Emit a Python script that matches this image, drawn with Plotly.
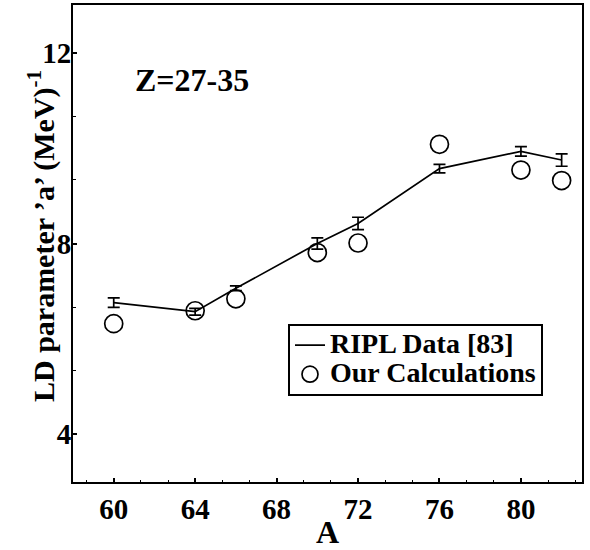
import plotly.graph_objects as go

# Data
mass_number = [60, 64, 66, 70, 72, 76, 80, 82]
ripl_a = [6.76, 6.57, 7.06, 8.00, 8.42, 9.57, 9.93, 9.75]
ripl_err = [0.10, 0.07, 0.05, 0.12, 0.13, 0.09, 0.10, 0.13]
calc_a = [6.32, 6.59, 6.84, 7.81, 8.01, 10.08, 9.54, 9.32]

x_ticks = [60, 64, 68, 72, 76, 80]
y_ticks = [4, 8, 12]

FONT = "Liberation Serif"


def big(txt, size=28):
    return f'<span style="font-size:{size}px"><b>{txt}</b></span>'


fig = go.Figure()
fig.add_trace(go.Scatter(
    x=mass_number, y=ripl_a, mode="lines", name=big("RIPL Data [83]"),
    line=dict(color="black", width=1.7),
    error_y=dict(type="data", array=ripl_err, visible=True, color="black",
                 thickness=1.7, width=6),
))
fig.add_trace(go.Scatter(
    x=mass_number, y=calc_a, mode="markers", name=big("Our Calculations"),
    marker=dict(symbol="circle-open", size=18, color="black",
                line=dict(width=1.7, color="black")),
))

fig.add_annotation(
    x=0.118, y=0.843, xref="paper", yref="paper", xanchor="left", yanchor="middle",
    text="<b>Z=27-35</b>", showarrow=False,
    font=dict(family=FONT, size=32, color="black"),
)

# y-axis title placed close to the axis (overlapping the tick-label column as in the original)
fig.add_annotation(
    x=-0.0615, y=0.515, xref="paper", yref="paper", xanchor="center", yanchor="middle",
    text="<b>LD parameter ’a’ (MeV)<sup>-1</sup></b>", showarrow=False, textangle=-90,
    font=dict(family=FONT, size=30, color="black"),
)

fig.update_layout(
    width=590, height=550,
    margin=dict(l=73, r=8, t=3, b=56),
    paper_bgcolor="white", plot_bgcolor="white",
    font=dict(family=FONT, size=28, color="black"),
    showlegend=True,
    legend=dict(
        x=0.4224, y=0.332, xanchor="left", yanchor="top",
        bordercolor="black", borderwidth=2, bgcolor="white",
        font=dict(family=FONT, size=20, color="black"),
        tracegroupgap=0,
    ),
)

fig.update_xaxes(
    range=[58, 83], tickvals=x_ticks, ticktext=[f"<b>{v}</b>" for v in x_ticks],
    ticks="inside", ticklen=4, tickwidth=1.5, tickcolor="black",
    showline=True, linecolor="black", linewidth=2, mirror=True,
    showgrid=False, zeroline=False,
    tickfont=dict(family=FONT, size=29, color="black"),
    minor=dict(tick0=60, dtick=4/3, ticks="inside", ticklen=2.5, tickwidth=1.2,
               tickcolor="black", showgrid=False),
    title=dict(text="<b>A</b>", font=dict(family=FONT, size=32, color="black"), standoff=0),
)
fig.update_yaxes(
    range=[3, 13], tickvals=y_ticks, ticktext=[f"<b>{v}</b>" for v in y_ticks],
    ticks="inside", ticklen=4, tickwidth=1.5, tickcolor="black",
    showline=True, linecolor="black", linewidth=2, mirror=True,
    showgrid=False, zeroline=False,
    tickfont=dict(family=FONT, size=29, color="black"),
    ticklabelstandoff=-6,
    minor=dict(tick0=4, dtick=4/3, ticks="inside", ticklen=2.5, tickwidth=1.2,
               tickcolor="black", showgrid=False),
)

fig.write_html("out.html")
